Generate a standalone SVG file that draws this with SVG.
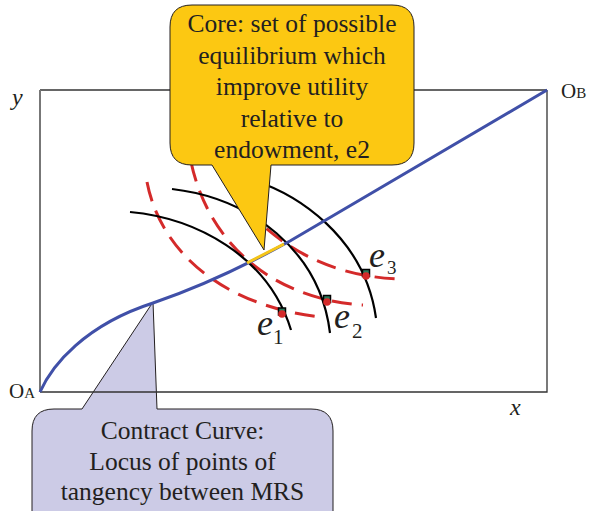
<svg xmlns="http://www.w3.org/2000/svg" width="591" height="511" viewBox="0 0 591 511">
<style>
.txt{font-family:"Liberation Serif","Times New Roman",serif;fill:#231f20}
.call{font-size:25.5px;text-anchor:middle}
.it{font-style:italic}
.red{fill:none;stroke:#d42a2a;stroke-width:3;stroke-dasharray:20 10}
.blk{fill:none;stroke:#000;stroke-width:2.2}
.box{fill:none;stroke:#333;stroke-width:1.3}
.mk{fill:#2a7a5a;stroke:#000;stroke-width:1.5}
.dot{fill:#d42a2a}
</style>
<rect width="591" height="511" fill="#fff"/>
<g id="callout-contract">
<path d="M54,409 L82,409 L153,302 L157,409 L311,409 Q333,409 333,431 L333,540 L32,540 L32,431 Q32,409 54,409 Z" fill="#cccbe6" stroke="#231f20" stroke-width="1"/>
<text class="txt call" font-family="Liberation Serif, serif" x="182.5" y="439">Contract Curve:</text>
<text class="txt call" font-family="Liberation Serif, serif" x="182.5" y="470">Locus of points of</text>
<text class="txt call" font-family="Liberation Serif, serif" x="182.5" y="500">tangency between MRS</text>
</g>
<g id="box">
<path class="box" d="M547,90 L547,392 L40,392"/>
<path class="box" d="M40,90 L547,90"/>
<path d="M40,90 L40,392" fill="none" stroke="#777" stroke-width="2"/>
</g>
<g id="connectors">
<path id="red1" class="red" d="M147,182 C160,250 220,305 320,317"/>
<path id="red2" class="red" d="M191,162 C210,250 280,300 363,305"/>
<path id="red3" class="red" d="M245,208 C275,240 320,275 397,279"/>
<path id="ic1" class="blk" d="M130,212 C195,218 268,255 291,330"/>
<path id="ic2" class="blk" d="M172,189 C250,198 320,250 330,333"/>
<path id="ic3" class="blk" d="M235,175 C300,190 365,240 376,318"/>
<path id="contract-curve" d="M40,392 C52,365 85,325 153,303 C200,287 252,262 290,241 L547,90" fill="none" stroke="#4050a8" stroke-width="3"/>
<path id="core" d="M247,263 L284,244" stroke="#f5c518" stroke-width="3"/>
</g>
<g id="e1">
<rect class="mk" x="278.5" y="308" width="7" height="7"/>
<circle class="dot" cx="282" cy="314" r="3.8"/>
<text class="txt it" x="257" y="335" font-size="36">e</text>
<text class="txt" x="273" y="344" font-size="21">1</text>
</g>
<g id="e2">
<rect class="mk" x="323.5" y="295.5" width="7" height="7"/>
<circle class="dot" cx="327" cy="302" r="3.8"/>
<text class="txt it" x="334" y="328" font-size="36">e</text>
<text class="txt" x="352" y="338" font-size="21">2</text>
</g>
<g id="e3">
<rect class="mk" x="362.5" y="269.5" width="7" height="7"/>
<circle class="dot" cx="366" cy="276" r="3.8"/>
<text class="txt it" x="369" y="267" font-size="36">e</text>
<text class="txt" x="387" y="274" font-size="19">3</text>
</g>
<g id="labels">
<text class="txt" x="9" y="398"><tspan font-size="21">O</tspan><tspan font-size="15">A</tspan></text>
<text class="txt" x="561" y="98"><tspan font-size="21">O</tspan><tspan font-size="15">B</tspan></text>
<text class="txt it" x="12" y="105" font-size="24">y</text>
<text class="txt it" x="510" y="415" font-size="24">x</text>
</g>
<g id="callout-core">
<path d="M192,5 L392,5 Q414,5 414,27 L414,143 Q414,165 392,165 L271,165 L264,250 L212,165 L192,165 Q170,165 170,143 L170,27 Q170,5 192,5 Z" fill="#fcc812" stroke="#231f20" stroke-width="1"/>
<text class="txt call" x="292" y="32">Core: set of possible</text>
<text class="txt call" x="292" y="63.5">equilibrium which</text>
<text class="txt call" x="292" y="95">improve utility</text>
<text class="txt call" x="292" y="126.5">relative to</text>
<text class="txt call" x="292" y="158">endowment, e2</text>
</g>
</svg>
